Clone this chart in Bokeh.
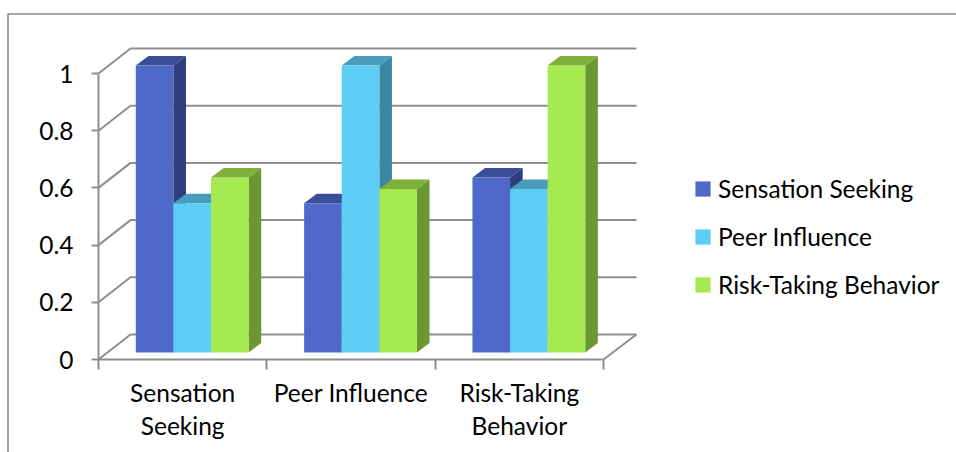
from bokeh.embed import file_html
from bokeh.resources import INLINE
from bokeh.plotting import figure
from bokeh.models import FixedTicker, Legend, LegendItem, LinearAxis, Range1d

# Chart values
categories = ["Sensation\nSeeking", "Peer Influence", "Risk-Taking\nBehavior"]
series_names = ["Sensation Seeking", "Peer Influence", "Risk-Taking Behavior"]
sensation_seeking = [1.0, 0.52, 0.61]
peer_influence = [0.52, 1.0, 0.57]
risk_taking = [0.61, 0.57, 1.0]
y_ticks = [0, 0.2, 0.4, 0.6, 0.8, 1]
y_tick_labels = ["0", "0.2", "0.4", "0.6", "0.8", "1"]

# Pseudo-3D layout, in pixels
W, H = 956, 452
PX_X, PX_Y = 168.33, 286.0      # pixels per category / per unit of value
ORIGIN_X, ORIGIN_Y = 98.0, 359.0
WALL_DX, WALL_DY = 32.0, 25.0   # floor depth of the box
BAR_DX, BAR_DY = 12.6, 9.4      # depth of a bar
BAR_FLOOR = 7.0                 # rise of the bars' front edge above the axis
BAR_START, BAR_W = 37.3, 37.6

GRID = "#8e8e8e"
FACES = [("#4f69c8", "#3a4e98", "#2f3f7d"),
         ("#5ccdf5", "#4a9cbb", "#3c86a3"),
         ("#a6ea52", "#7eb03b", "#6c9733")]
FONT = "Lato"
TEXT_SIZE = "24.5px"


def dx(px):
    return px / PX_X


def dy(px):
    return px / PX_Y


p = figure(width=W, height=H, output_backend="svg", toolbar_location=None,
           x_range=Range1d(-ORIGIN_X / PX_X, (W - ORIGIN_X) / PX_X),
           y_range=Range1d(-(H - ORIGIN_Y) / PX_Y, ORIGIN_Y / PX_Y),
           min_border=0, outline_line_color=None, background_fill_color="white",
           border_fill_color="white")
p.grid.visible = False

# Outer chart frame: top and left edges only reach the page boundary
x_left = dx(7.5 - ORIGIN_X)
y_top = dy(ORIGIN_Y - 13.5)
p.line([x_left, x_left, dx(W - ORIGIN_X)], [dy(ORIGIN_Y - H), y_top, y_top],
       line_color="#8a8a8a", line_width=1.6)

# Floor outline and back-wall gridlines with their diagonal returns
for tick in y_ticks:
    x0, x1, x2 = 0, dx(WALL_DX), dx(636 - ORIGIN_X)
    p.line([x0, x1, x2], [tick, tick + dy(WALL_DY), tick + dy(WALL_DY)],
           line_color=GRID, line_width=2)
p.line([dx(636 - ORIGIN_X), 3], [dy(WALL_DY), 0], line_color=GRID, line_width=2)

# Bars, back to front inside each group
legend_items = []
all_series = [sensation_seeking, peer_influence, risk_taking]
for s, (values, name, (front, top, side)) in enumerate(zip(all_series, series_names, FACES)):
    lefts = [i + dx(BAR_START + s * BAR_W) for i in range(3)]
    rights = [x + dx(BAR_W) for x in lefts]
    base = dy(BAR_FLOOR)
    tops = [base + v * (287.0 / PX_Y) for v in values]
    p.patches(
        [[r, r + dx(BAR_DX), r + dx(BAR_DX), r] for r in rights],
        [[base, base + dy(BAR_DY), t + dy(BAR_DY), t] for t in tops],
        fill_color=side, line_color=None)
    p.patches(
        [[l, l + dx(BAR_DX), r + dx(BAR_DX), r] for l, r in zip(lefts, rights)],
        [[t, t + dy(BAR_DY), t + dy(BAR_DY), t] for t in tops],
        fill_color=top, line_color=None)
    face = p.quad(left=lefts, right=rights, bottom=base, top=tops,
                  fill_color=front, line_color=None)
    legend_items.append(LegendItem(label=name, renderers=[face]))

# Value axis, pinned to the front-left edge of the box
p.yaxis.fixed_location = 0
yaxis = p.yaxis[0]
yaxis.ticker = FixedTicker(ticks=y_ticks)
yaxis.major_label_overrides = dict(zip(y_ticks, y_tick_labels))
yaxis.bounds = (0, 1)
yaxis.axis_line_color = GRID
yaxis.axis_line_width = 2
yaxis.major_tick_line_color = GRID
yaxis.major_tick_line_width = 2
yaxis.major_tick_out = 7
yaxis.major_tick_in = 0
yaxis.minor_tick_line_color = None
yaxis.major_label_text_font = FONT
yaxis.major_label_text_font_size = TEXT_SIZE
yaxis.major_label_text_color = "#000000"
yaxis.major_label_standoff = 18

# Category axis: tick marks at the group boundaries
p.xaxis.fixed_location = 0
xaxis = p.xaxis[0]
xaxis.ticker = FixedTicker(ticks=[0, 1, 2, 3])
xaxis.bounds = (0, 3)
xaxis.axis_line_color = GRID
xaxis.axis_line_width = 2
xaxis.major_tick_line_color = GRID
xaxis.major_tick_line_width = 2
xaxis.major_tick_out = 10
xaxis.major_tick_in = 0
xaxis.minor_tick_line_color = None
xaxis.major_label_text_font_size = "0px"
xaxis.major_label_text_color = None

# Second category axis carries the group names, centred on each group
label_axis = LinearAxis(fixed_location=0,
                        ticker=FixedTicker(ticks=[0.5, 1.5, 2.5]),
                        major_label_overrides=dict(zip([0.5, 1.5, 2.5], categories)),
                        axis_line_color=None, major_tick_line_color=None,
                        minor_tick_line_color=None,
                        major_label_text_font=FONT,
                        major_label_text_font_size=TEXT_SIZE,
                        major_label_text_color="#000000",
                        major_label_text_line_height=1.15,
                        major_label_standoff=12)
p.add_layout(label_axis, "below")

legend = Legend(items=legend_items, location=(693, 153), orientation="vertical",
                glyph_width=19, glyph_height=19, spacing=19, margin=0, padding=6,
                label_standoff=6, label_text_font=FONT, label_text_font_size=TEXT_SIZE,
                label_text_color="#000000", background_fill_alpha=0, border_line_color=None)
p.add_layout(legend, "center")

open("out.html", "w").write(file_html(p, INLINE))
